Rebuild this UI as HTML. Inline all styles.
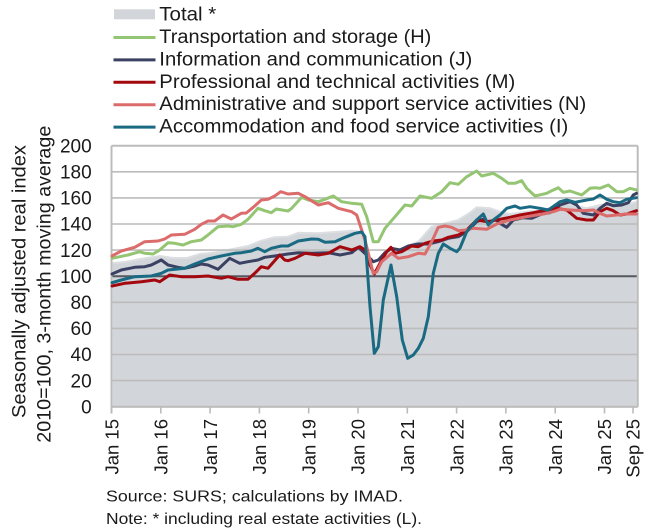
<!DOCTYPE html>
<html>
<head>
<meta charset="utf-8">
<style>
html,body{margin:0;padding:0;background:#fff;}
svg{display:block;}
text{font-family:"Liberation Sans",Arial,sans-serif;fill:#1a1a1a;}
</style>
</head>
<body>
<svg width="651" height="532" viewBox="0 0 651 532" xmlns="http://www.w3.org/2000/svg">
<!-- Legend -->
<rect x="114" y="9.3" width="41" height="10" fill="#d2d5d9"/>
<text x="159.3" y="20.6" font-size="19" textLength="57" lengthAdjust="spacingAndGlyphs">Total *</text>
<line x1="113.5" y1="37.5" x2="155.5" y2="37.5" stroke="#93c572" stroke-width="3"/>
<text x="159.3" y="43" font-size="19" textLength="272" lengthAdjust="spacingAndGlyphs">Transportation and storage (H)</text>
<line x1="113.5" y1="59.9" x2="155.5" y2="59.9" stroke="#3a4162" stroke-width="3"/>
<text x="159.3" y="65.4" font-size="19" textLength="313" lengthAdjust="spacingAndGlyphs">Information and communication (J)</text>
<line x1="113.5" y1="82.3" x2="155.5" y2="82.3" stroke="#a3080e" stroke-width="3"/>
<text x="159.3" y="87.8" font-size="19" textLength="356" lengthAdjust="spacingAndGlyphs">Professional and technical activities (M)</text>
<line x1="113.5" y1="104.7" x2="155.5" y2="104.7" stroke="#dc6b6b" stroke-width="3"/>
<text x="159.3" y="110.2" font-size="19" textLength="427" lengthAdjust="spacingAndGlyphs">Administrative and support service activities (N)</text>
<line x1="113.5" y1="127.1" x2="155.5" y2="127.1" stroke="#196a82" stroke-width="3"/>
<text x="159.3" y="132.6" font-size="19" textLength="409" lengthAdjust="spacingAndGlyphs">Accommodation and food service activities (I)</text>

<!-- Total area -->
<path fill="#d2d5d9" stroke="#dcdfe2" stroke-width="2" d="M112,406.7 L112,263 125,262 140,259 160,256 173,258 187,258 200,254 208,253.3 220,251.7 228,250 248,246 261.3,240.7 274.7,237.3 288,236.7 298.3,232.7 318.3,233.3 338.3,231.7 351.7,230.7 361.7,231.7 365,236.7 372.3,271.7 376.7,270 385,251.7 401.7,248.3 418.3,241.7 431.7,226.7 445,223.3 458.3,220 470,212.7 476.7,207.3 490,208.3 500,211.7 510,214 526.7,211.7 543.3,210 556.7,206 566.7,203.3 573.3,205 586.7,208.3 600,205 610,203.3 620,205 630,203.3 637.3,201.7 L637.3,406.7 Z"/>

<!-- Gridlines -->
<g stroke="#bcbcbc" stroke-width="1.6">
<line x1="112" y1="380.6" x2="637.7" y2="380.6"/>
<line x1="112" y1="354.5" x2="637.7" y2="354.5"/>
<line x1="112" y1="328.4" x2="637.7" y2="328.4"/>
<line x1="112" y1="302.3" x2="637.7" y2="302.3"/>
<line x1="112" y1="250.1" x2="637.7" y2="250.1"/>
<line x1="112" y1="224.0" x2="637.7" y2="224.0"/>
<line x1="112" y1="197.9" x2="637.7" y2="197.9"/>
<line x1="112" y1="171.8" x2="637.7" y2="171.8"/>
</g>
<line x1="112" y1="276.2" x2="637.7" y2="276.2" stroke="#555a60" stroke-width="2"/>
<!-- Frame -->
<g stroke="#bcbcbc" stroke-width="2" fill="none">
<line x1="111.5" y1="145.7" x2="637.7" y2="145.7"/>
<line x1="637.7" y1="145.7" x2="637.7" y2="406.7"/>
<line x1="111.5" y1="145.7" x2="111.5" y2="413.5"/>
<line x1="111.5" y1="406.7" x2="637.7" y2="406.7"/>
</g>
<!-- X ticks -->
<g stroke="#bcbcbc" stroke-width="1.6">
<line x1="160.8" y1="406.7" x2="160.8" y2="413.5"/>
<line x1="210.1" y1="406.7" x2="210.1" y2="413.5"/>
<line x1="259.4" y1="406.7" x2="259.4" y2="413.5"/>
<line x1="308.7" y1="406.7" x2="308.7" y2="413.5"/>
<line x1="358" y1="406.7" x2="358" y2="413.5"/>
<line x1="407.3" y1="406.7" x2="407.3" y2="413.5"/>
<line x1="456.6" y1="406.7" x2="456.6" y2="413.5"/>
<line x1="505.9" y1="406.7" x2="505.9" y2="413.5"/>
<line x1="555.2" y1="406.7" x2="555.2" y2="413.5"/>
<line x1="604.5" y1="406.7" x2="604.5" y2="413.5"/>
<line x1="633" y1="406.7" x2="633" y2="413.5"/>
</g>

<!-- Series -->
<g fill="none" stroke-width="3" stroke-linejoin="round" stroke-linecap="round">
<polyline stroke="#93c572" points="112,258.3 128,255 139.7,251.7 144.7,253.3 153,254 159.7,250 168,242.7 174.7,243.3 183,245 191.3,241.7 201.3,240 208,235 218,226.7 228,226 233,226.7 241.3,224.3 248,219.3 258,208.3 264.7,210.7 271.3,212.7 276.3,209 288,211 291.7,208.3 301.7,197.3 308.3,200 318.3,201.7 325,199.3 333.3,196 341.7,201.7 351.7,203.3 361.7,204.3 366.7,216.7 373.3,241.7 378.3,241.7 385,228.3 395,216.7 405,205 411.7,206 420,196 431.7,198.3 441.7,191.7 450,182.7 458.3,184.3 466.7,176.7 476.7,171 481.7,176 493.3,173.3 501.7,178.3 508.3,183.3 515,183.3 521.7,180.7 526.7,188.3 535,196 546.7,193.3 551.7,190.7 558.3,187.7 563.3,192.3 570,191 581.7,195 590,188.3 595,187.7 600,188.3 608.3,185 616.7,191.7 623.3,191.7 630,188.3 636.5,190"/>
<polyline stroke="#3a4162" points="112,274 121.3,270 134.7,267.3 144.7,266.7 151.3,265 161.3,260 168,265 178,267.3 184.7,268.3 194.7,266 201.3,264 208,265 218,269.3 229.7,258.3 239.7,263.3 248,261.7 258,260 264.7,257.3 274.7,256 288,254 298.3,252.7 311.7,253.3 328.3,252.7 340,255 351.7,252.7 358.3,247.3 366.7,255 373.3,261.7 378.3,260 385,252.7 391.7,248.3 400,250 408.3,246 418.3,244 428.3,244 438.3,241.7 448.3,238.3 458.3,236.7 466.7,231.7 476.7,221.7 483.3,219 490,223.3 495,219 500,223.3 506.7,227.3 513.3,220 523.3,217.7 531.7,218.3 541.7,214 550,212.7 560,205 570,201.7 576.7,205 583.3,213.3 593.3,215 600,208.3 606.7,203.3 613.3,205.7 621.7,205 628.3,202.7 633.3,195 636.5,193.3"/>
<polyline stroke="#a3080e" points="112,286 124.7,283.3 141.3,281.7 154.7,280 159.7,281.7 169.7,275 181.3,276.7 194.7,276.7 208,276 221.3,278.3 228,276.7 238,279.3 248,279.3 254.7,273.3 261.3,266.7 268,268.3 279.7,255 284.7,260 288,260.7 295,258.3 305,253.3 318.3,255 328.3,253.3 340,246.7 351.7,250 360,246.7 365,250 370,265 374.3,274 380,263.3 386.7,251.7 391,247.3 395,253.3 401.7,251.7 411.7,246 418.3,246.7 425,243.3 433.3,241 441.7,240 448.3,237.3 458.3,235 466.7,230 476.7,220 486.7,221.7 496.7,220 510,217.3 520,215 533.3,212.7 546.7,210 556.7,208.3 566.7,210 576.7,218.3 586.7,220 593.3,220 600,211.7 606.7,208.3 613.3,210.7 620,215 626.7,214 636.5,210.7"/>
<polyline stroke="#dc6b6b" points="112,256 121.3,251 134.7,247.3 144.7,241.7 158,241 164.7,239 171.3,235 184.7,234.3 194.7,229.3 201.3,224.3 208,221 214.7,221 223,215 231.3,219 241.3,213.3 246.3,213 254.7,206 261.3,200 268,199.3 274.7,196 280.7,191.7 288,194 298.3,193.3 305,196.7 318.3,205 328.3,202.7 338.3,208.3 351.7,211.7 356.7,215 365,240 373.3,273.3 376.7,271.7 381.7,261.7 391.7,253.3 398.3,258.3 408.3,256.7 418.3,253.3 425,254 431.7,241.7 438.3,227.3 445,226 451.7,227.3 458.3,230.7 465,230 473.3,228.3 486.7,229.3 496.7,224 510,220 526.7,216.7 543.3,214 553.3,211.7 560,209.3 570,210 583.3,210.7 593.3,210 600,213.3 606.7,216 616.7,215 626.7,214 636.5,214"/>
<polyline stroke="#196a82" points="112,282.7 121.3,280 134.7,276.7 151.3,276 161.3,273.3 168,270 184.7,268.3 194.7,264 208,259 221.3,256 234.7,253.3 241.3,252.7 251.3,251 258,248.3 264.7,251.7 271.3,248.3 281.3,246 288,246 298.3,241 311.7,239 318.3,239.3 325,242.3 335,241.7 345,237.3 355,233.3 361.7,232 365,236.7 370,306.7 374.3,353.3 378.3,346.7 383.3,300 391,265 396.7,296.7 402.3,340 407.7,358.3 413.3,355 418.3,348.3 423.3,338.3 428.3,316.7 433.3,273.3 438.3,253.3 443.3,244 450,248.3 456.7,251.7 460,248 466.7,231.7 476.7,220 483.3,214 488.3,225 493.3,220 500,215 506.7,208.3 515,206 520,208.3 530,206.7 540,208.3 548.3,210 560,201.7 566.7,200 575,202.3 586.7,200 593.3,199 600,195 606.7,199.3 613.3,201.7 620,202.7 626.7,199.3 636.5,197.7"/>
</g>

<!-- Y tick labels -->
<g font-size="19" text-anchor="end">
<text x="91.7" y="152.4">200</text>
<text x="91.7" y="178.5">180</text>
<text x="91.7" y="204.6">160</text>
<text x="91.7" y="230.7">140</text>
<text x="91.7" y="256.8">120</text>
<text x="91.7" y="282.9">100</text>
<text x="91.7" y="309.0">80</text>
<text x="91.7" y="335.1">60</text>
<text x="91.7" y="361.2">40</text>
<text x="91.7" y="387.3">20</text>
<text x="91.7" y="413.4">0</text>
</g>

<!-- Y axis title -->
<text transform="translate(25.5,418) rotate(-90)" font-size="19" textLength="273" lengthAdjust="spacingAndGlyphs">Seasonally adjusted real index</text>
<text transform="translate(50.5,442.7) rotate(-90)" font-size="19" textLength="317" lengthAdjust="spacingAndGlyphs">2010=100, 3-month moving average</text>

<!-- X tick labels -->
<g font-size="18.5" text-anchor="end">
<text transform="translate(118.7,419) rotate(-90)">Jan 15</text>
<text transform="translate(167.5,419) rotate(-90)">Jan 16</text>
<text transform="translate(216.8,419) rotate(-90)">Jan 17</text>
<text transform="translate(266.1,419) rotate(-90)">Jan 18</text>
<text transform="translate(315.4,419) rotate(-90)">Jan 19</text>
<text transform="translate(364.7,419) rotate(-90)">Jan 20</text>
<text transform="translate(414,419) rotate(-90)">Jan 21</text>
<text transform="translate(463.3,419) rotate(-90)">Jan 22</text>
<text transform="translate(512.6,419) rotate(-90)">Jan 23</text>
<text transform="translate(561.9,419) rotate(-90)">Jan 24</text>
<text transform="translate(611.2,419) rotate(-90)">Jan 25</text>
<text transform="translate(639.5,419) rotate(-90)">Sep 25</text>
</g>

<!-- Footer -->
<text x="106" y="501.7" font-size="16" textLength="297" lengthAdjust="spacingAndGlyphs">Source:  SURS; calculations by IMAD.</text>
<text x="106" y="524" font-size="16" textLength="316" lengthAdjust="spacingAndGlyphs">Note: * including real estate activities (L).</text>
</svg>
</body>
</html>
